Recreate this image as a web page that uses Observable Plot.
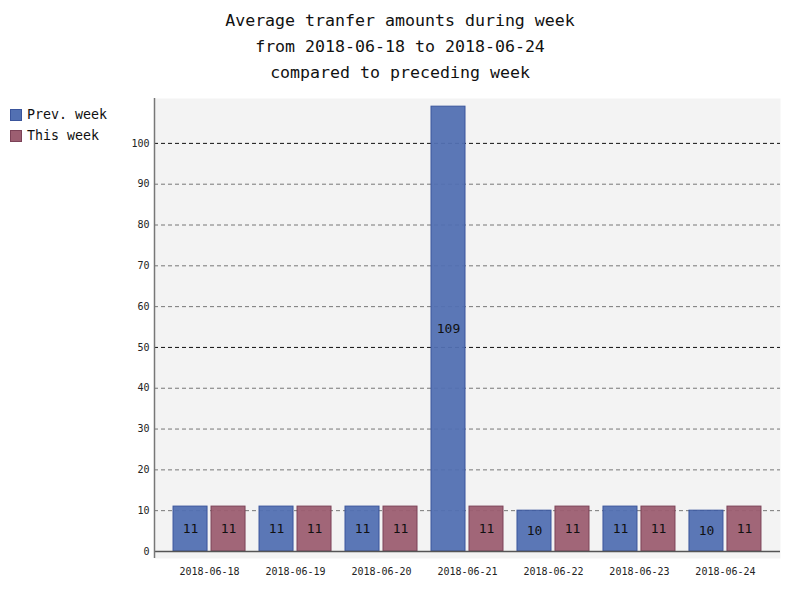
<!DOCTYPE html>
<html>
<head>
<meta charset="utf-8">
<script src="https://cdn.jsdelivr.net/npm/d3@7"></script>
<script src="https://cdn.jsdelivr.net/npm/@observablehq/plot@0.6"></script>
<style>
  body { margin: 0; background: #fff; font-family: "DejaVu Sans Mono", monospace; }
  #wrap { position: relative; width: 800px; height: 600px; }
  #title { height: 85px; padding-top: 8px; box-sizing: border-box; text-align: center; font-size: 16.6px; line-height: 26px; color: #111; }
  #legend { position: absolute; left: 10px; top: 104px; font-size: 13.3px; color: #111; }
  .item { display: flex; align-items: center; height: 21px; }
  .sw { width: 10px; height: 10px; margin-right: 5px; border: 1px solid; }
  svg { display: block; }
</style>
</head>
<body>
<div id="wrap">
  <div id="title">Average tranfer amounts during week<br>from 2018-06-18 to 2018-06-24<br>compared to preceding week</div>
  <div id="legend"></div>
  <div id="chart"></div>
</div>
<script>
const dates = ["2018-06-18","2018-06-19","2018-06-20","2018-06-21","2018-06-22","2018-06-23","2018-06-24"];
const seriesNames = ["Prev. week", "This week"];
const prevWeek = [11, 11, 11, 109, 10, 11, 10];
const thisWeek = [11, 11, 11, 11, 11, 11, 11];
const yTicks = [0, 10, 20, 30, 40, 50, 60, 70, 80, 90, 100];

const fills = {"Prev. week": "#5270b2", "This week": "#9c5e71"};
const strokes = {"Prev. week": "#3a559c", "This week": "#7c4257"};

// bar geometry in band units (one band per date)
const barW = 34 / 86, gap = 4 / 86;
const rows = [];
dates.forEach((d, i) => {
  rows.push({i, date: d, series: seriesNames[0], value: prevWeek[i], x1: i - gap / 2 - barW, x2: i - gap / 2});
  rows.push({i, date: d, series: seriesNames[1], value: thisWeek[i], x1: i + gap / 2, x2: i + gap / 2 + barW});
});

const plot = Plot.plot({
  width: 800,
  height: 515,
  marginLeft: 154,
  marginRight: 20,
  marginTop: 13,
  marginBottom: 42,
  style: {fontFamily: "DejaVu Sans Mono, monospace", fontSize: "10px", color: "#222", background: "transparent"},
  x: {type: "linear", domain: [-0.64, 6.64]},
  y: {domain: [-1.72, 111]},
  marks: [
    Plot.frame({fill: "#f3f3f3", stroke: null}),
    Plot.ruleY(yTicks.filter(t => t !== 0 && t % 50 !== 0), {stroke: "#777", strokeDasharray: "4,3", strokeWidth: 1}),
    Plot.ruleY(yTicks.filter(t => t !== 0 && t % 50 === 0), {stroke: "#111", strokeDasharray: "4,3", strokeWidth: 1}),
    Plot.rectY(rows, {x1: "x1", x2: "x2", y1: 0, y2: "value",
      fill: d => fills[d.series], stroke: d => strokes[d.series], fillOpacity: 0.95, strokeWidth: 1}),
    Plot.text(rows, {x: d => (d.x1 + d.x2) / 2, y: d => d.value / 2, text: d => String(d.value),
      fontSize: 13, fill: "#111"}),
    Plot.ruleY([0], {stroke: "#555", strokeWidth: 1.5}),
    Plot.ruleX([-0.64], {stroke: "#777", strokeWidth: 1.5}),
    Plot.axisY({ticks: yTicks, tickSize: 0, tickPadding: 5, label: null}),
    Plot.axisX({ticks: d3.range(dates.length), tickFormat: i => dates[i], tickSize: 0, tickPadding: 9, label: null})
  ]
});
document.getElementById("chart").appendChild(plot);

const legend = document.getElementById("legend");
seriesNames.forEach(s => {
  const it = document.createElement("div");
  it.className = "item";
  const sw = document.createElement("div");
  sw.className = "sw";
  sw.style.background = fills[s];
  sw.style.borderColor = strokes[s];
  const lb = document.createElement("span");
  lb.textContent = s;
  it.appendChild(sw); it.appendChild(lb);
  legend.appendChild(it);
});
</script>
</body>
</html>
